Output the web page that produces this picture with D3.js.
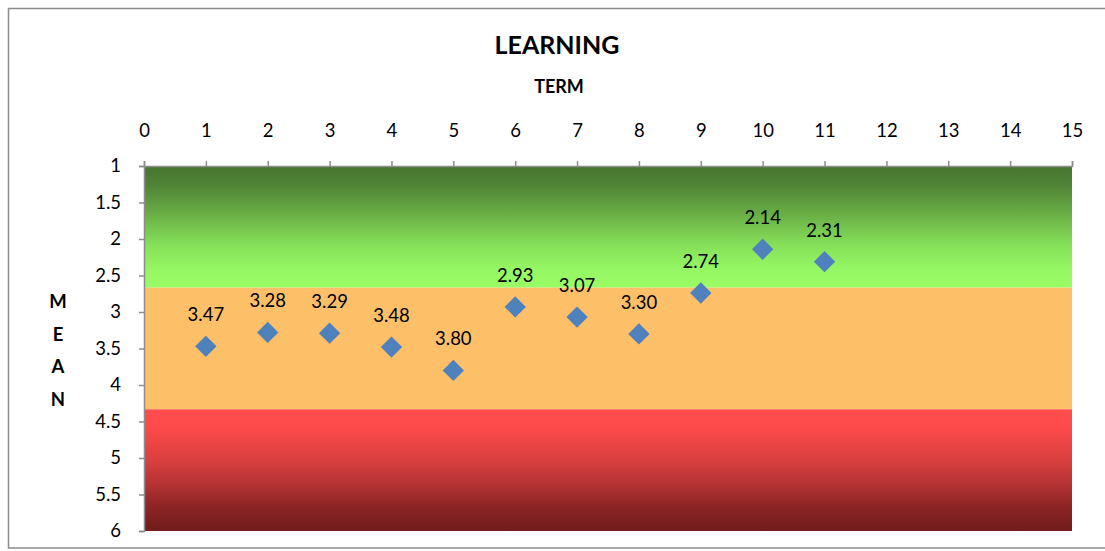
<!DOCTYPE html>
<html>
<head>
<meta charset="utf-8">
<script src="https://cdn.jsdelivr.net/npm/d3@7"></script>
<style>
  html, body { margin: 0; padding: 0; background: #fff; }
  svg { display: block; font-family: Lato, "Open Sans", sans-serif; }
</style>
</head>
<body>
<svg id="chart" width="1105" height="551"></svg>
<script>
// Term numbers and mean scores
const terms = [1, 2, 3, 4, 5, 6, 7, 8, 9, 10, 11];
const means = [3.47, 3.28, 3.29, 3.48, 3.80, 2.93, 3.07, 3.30, 2.74, 2.14, 2.31];
const xTicks = d3.range(0, 16, 1);
const yTicks = [1, 1.5, 2, 2.5, 3, 3.5, 4, 4.5, 5, 5.5, 6];
// Performance bands on the mean scale (1 = best, 6 = worst)
const bandNames = ["good", "fair", "poor"];
const bandEdges = [1, 1 + 5 / 3, 1 + 10 / 3, 6];

const svg = d3.select("#chart");
const plot = { left: 144, right: 1072, top: 166, bottom: 531 };

const x = d3.scaleLinear().domain([0, 15]).range([plot.left, plot.right]);
const y = d3.scaleLinear().domain([1, 6]).range([plot.top, plot.bottom]);

// Outer frame
svg.append("rect")
  .attr("x", 8.5).attr("y", 8.5)
  .attr("width", 1110).attr("height", 539.5)
  .attr("fill", "none").attr("stroke", "#8c8c8c").attr("stroke-width", 1.5);

// Gradients for the bands
const defs = svg.append("defs");
const gradStops = {
  good: [["0%", "#487630"], ["15%", "#4f8236"], ["40%", "#6aaf45"], ["65%", "#86e05a"], ["85%", "#95f763"], ["100%", "#9afd66"]],
  fair: [["0%", "#fdbf68"], ["100%", "#fdbf68"]],
  poor: [["0%", "#ff4c4c"], ["15%", "#fd4a4a"], ["40%", "#dc4040"], ["60%", "#b83434"], ["80%", "#8c2424"], ["100%", "#701c1c"]]
};
bandNames.forEach(name => {
  const g = defs.append("linearGradient")
    .attr("id", "grad-" + name)
    .attr("x1", 0).attr("y1", 0).attr("x2", 0).attr("y2", 1);
  gradStops[name].forEach(([o, c]) => g.append("stop").attr("offset", o).attr("stop-color", c));
});

svg.append("g").selectAll("rect")
  .data(bandNames)
  .join("rect")
  .attr("x", x(0))
  .attr("width", x(15) - x(0))
  .attr("y", (d, i) => y(bandEdges[i]))
  .attr("height", (d, i) => y(bandEdges[i + 1]) - y(bandEdges[i]))
  .attr("fill", d => "url(#grad-" + d + ")");

// Axes
const axisColor = "#8c8c8c";
const xAxis = svg.append("g")
  .attr("transform", `translate(0,${plot.top})`)
  .call(d3.axisTop(x).tickValues(xTicks).tickSize(5).tickPadding(24).tickFormat(d3.format("d")));
const yAxis = svg.append("g")
  .attr("transform", `translate(${plot.left},0)`)
  .call(d3.axisLeft(y).tickValues(yTicks).tickSize(5).tickPadding(18).tickFormat(d => String(d)));

[xAxis, yAxis].forEach(a => {
  a.select(".domain").attr("stroke", axisColor).attr("stroke-width", 1.5);
  a.selectAll(".tick line").attr("stroke", axisColor).attr("stroke-width", 1.5);
  a.selectAll(".tick text").attr("fill", "#000").style("font-size", "18.5px").style("font-family", "Lato, sans-serif");
});

// Data points
const pts = svg.append("g");
pts.selectAll("path")
  .data(terms)
  .join("path")
  .attr("transform", (d, i) => `translate(${x(d)},${y(means[i])})`)
  .attr("d", d3.symbol(d3.symbolDiamond2, 290)())
  .attr("fill", "#4f81bd");

pts.selectAll("text")
  .data(terms)
  .join("text")
  .attr("x", d => x(d))
  .attr("y", (d, i) => y(means[i]) - 25)
  .attr("text-anchor", "middle")
  .style("font-size", "18.5px")
  .attr("fill", "#000")
  .text((d, i) => means[i].toFixed(2));

// Titles
svg.append("text")
  .attr("x", 557).attr("y", 54)
  .attr("text-anchor", "middle")
  .style("font-size", "25px").style("font-weight", "bold")
  .text("LEARNING");

svg.append("text")
  .attr("x", 559).attr("y", 93)
  .attr("text-anchor", "middle")
  .style("font-size", "18px").style("font-weight", "bold")
  .text("TERM");

svg.append("g").selectAll("text")
  .data("MEAN".split(""))
  .join("text")
  .attr("x", 58)
  .attr("y", (d, i) => 308 + i * 32.5)
  .attr("text-anchor", "middle")
  .style("font-size", "18.5px").style("font-weight", "bold")
  .text(d => d);
</script>
</body>
</html>
